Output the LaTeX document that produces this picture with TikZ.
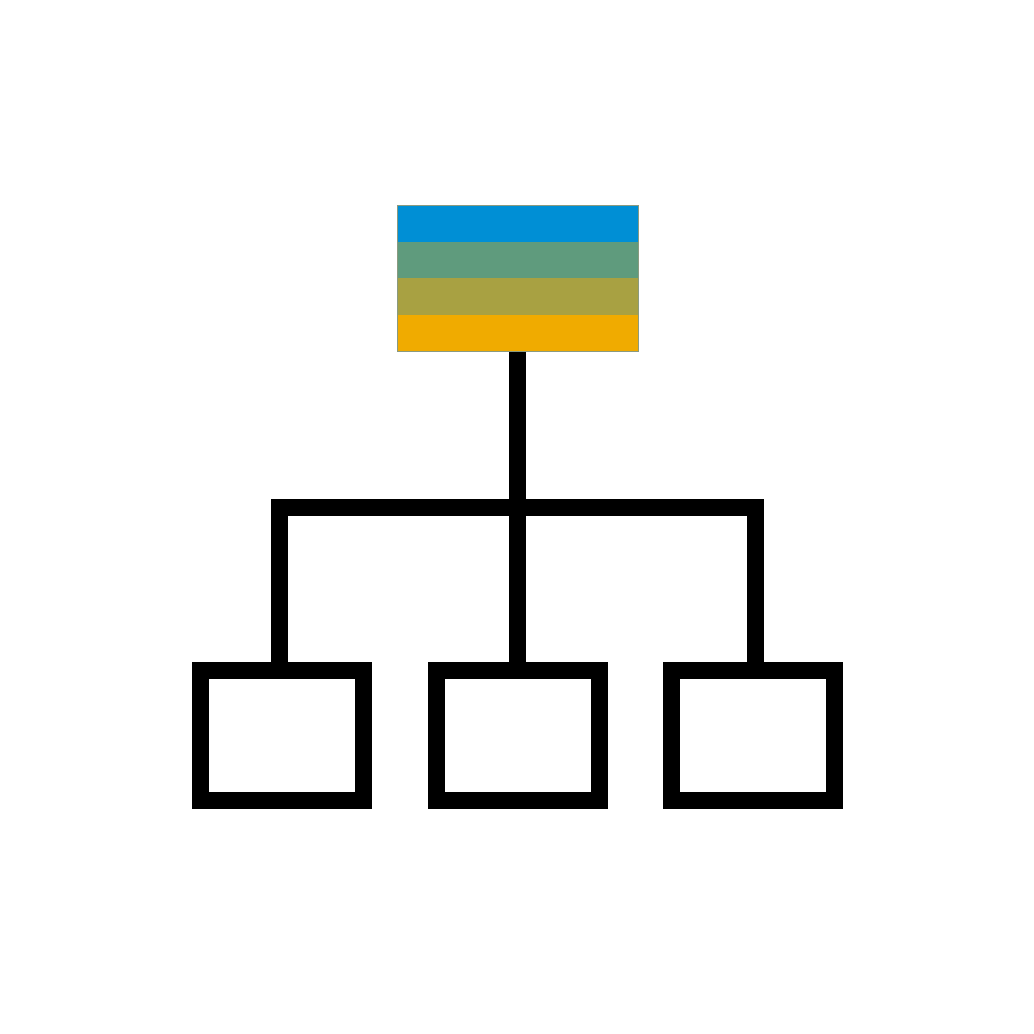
\documentclass[tikz,border=0pt]{standalone}
\usetikzlibrary{backgrounds}
\definecolor{cblue}{HTML}{008FD5}
\definecolor{cgreen}{HTML}{5F9B7D}
\definecolor{colive}{HTML}{A8A142}
\definecolor{corange}{HTML}{F0AB00}
\definecolor{cedge}{HTML}{8A9A80}
\begin{document}
\begin{tikzpicture}[x=1pt,y=-1pt,
  wire/.style={line width=17pt,draw=black},
  child/.style={draw=black,line width=17pt,fill=white,minimum width=163pt,minimum height=130pt,inner sep=0pt,outer sep=0pt}]
\useasboundingbox (0,0) rectangle (1034,1034);
% top coloured box
\fill[cblue] (397,205) rectangle (638,242);
\fill[cgreen] (397,242) rectangle (638,278);
\fill[colive] (397,278) rectangle (638,315);
\fill[corange] (397,315) rectangle (638,351);
\node[draw=cedge,line width=0.5pt,minimum width=241pt,minimum height=146pt,inner sep=0pt,outer sep=0pt] (top) at (517.5,278) {};
% junction coordinates
\coordinate (jl) at (279.5,507);
\coordinate (jm) at (517.5,507);
\coordinate (jr) at (755.5,507);
% children
\node[child] (c1) at (282,735.5) {};
\node[child] (c2) at (517.5,735.5) {};
\node[child] (c3) at (753,735.5) {};
% connectors, behind the children
\begin{scope}[on background layer]
\fill[white] (0,0) rectangle (1034,1034);
\draw[wire] (top.south) -- (jm);
\draw[wire,line join=miter] (jl |- c1.center) -- (jl) -- (jr) -- (jr |- c3.center);
\draw[wire] (jm) -- (c2.center);
\end{scope}
\end{tikzpicture}
\end{document}
